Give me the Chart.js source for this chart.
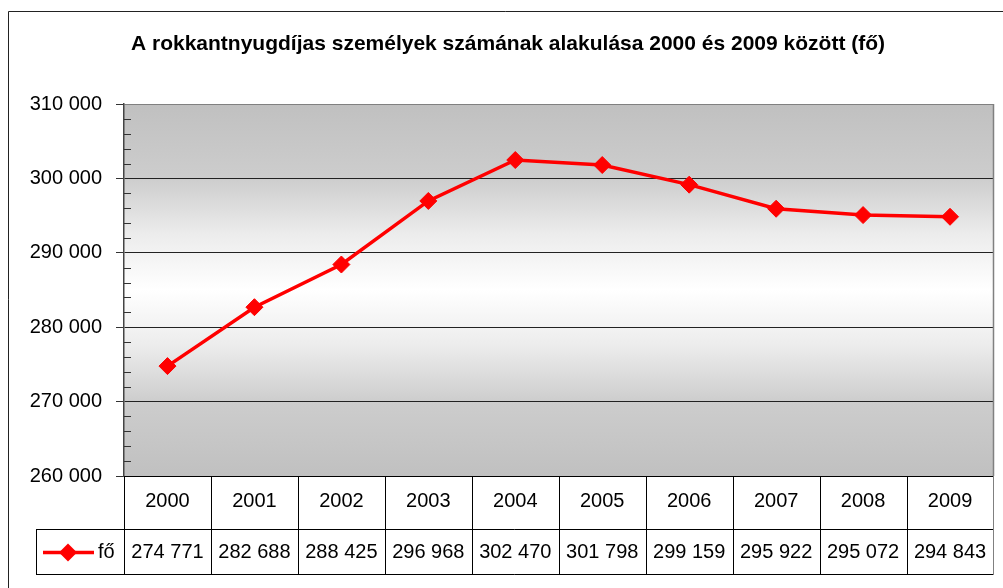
<!DOCTYPE html>
<html>
<head>
<meta charset="utf-8">
<script src="https://cdn.jsdelivr.net/npm/chart.js@4.4.0/dist/chart.umd.min.js"></script>
<style>
  html, body { margin: 0; padding: 0; background: #fff; }
  canvas { display: block; }
</style>
</head>
<body>
<canvas id="chart" width="1003" height="588"></canvas>
<script>
const chartTitle = 'A rokkantnyugdíjas személyek számának alakulása 2000 és 2009 között (fő)';
const years = ['2000', '2001', '2002', '2003', '2004', '2005', '2006', '2007', '2008', '2009'];
const persons = [274771, 282688, 288425, 296968, 302470, 301798, 299159, 295922, 295072, 294843];
const seriesLabel = 'fő';
const yMin = 260000;
const yMax = 310000;
const yStep = 10000;
const yMinorStep = 2000;

const FONT = '"Liberation Sans", Arial, sans-serif';
const RED = '#ff0000';

function fmt(n) {
    return String(n).replace(/\B(?=(\d{3})+(?!\d))/g, ' ');
}

// frame, gradient background, title, minor ticks and the data table under the axis
const tablePlugin = {
    id: 'tablePlugin',
    beforeDraw(chart) {
        const ctx = chart.ctx;
        const a = chart.chartArea;
        ctx.save();
        ctx.fillStyle = '#fff';
        ctx.fillRect(0, 0, chart.width, chart.height);

        // outer frame
        ctx.strokeStyle = '#222';
        ctx.lineWidth = 1;
        ctx.beginPath();
        ctx.moveTo(8.5, chart.height);
        ctx.lineTo(8.5, 11.5);
        ctx.lineTo(chart.width, 11.5);
        ctx.stroke();

        // plot background
        const g = ctx.createLinearGradient(0, a.top, 0, a.bottom);
        g.addColorStop(0, '#c0c0c0');
        g.addColorStop(0.2, '#cdcdcd');
        g.addColorStop(0.35, '#ececec');
        g.addColorStop(0.5, '#ffffff');
        g.addColorStop(0.65, '#ececec');
        g.addColorStop(0.8, '#cdcdcd');
        g.addColorStop(1, '#c0c0c0');
        ctx.fillStyle = g;
        ctx.fillRect(a.left, a.top, a.right - a.left, a.bottom - a.top);

        // title
        ctx.fillStyle = '#000';
        ctx.font = 'bold 21px ' + FONT;
        ctx.textAlign = 'center';
        ctx.textBaseline = 'middle';
        ctx.fillText(chartTitle, 508, 44);
        ctx.restore();
    },
    afterDraw(chart) {
        const ctx = chart.ctx;
        const a = chart.chartArea;
        const xs = chart.scales.x;
        const ys = chart.scales.y;
        ctx.save();

        // minor ticks on the value axis
        ctx.strokeStyle = '#333';
        ctx.lineWidth = 1;
        ctx.beginPath();
        for (let v = yMin + yMinorStep; v < yMax; v += yMinorStep) {
            if (v % yStep === 0) continue;
            const y = Math.round(ys.getPixelForValue(v)) + 0.5;
            ctx.moveTo(a.left, y);
            ctx.lineTo(a.left + 7, y);
        }
        ctx.stroke();

        // right border of plot
        ctx.strokeStyle = '#808080';
        ctx.lineWidth = 1.5;
        ctx.beginPath();
        ctx.moveTo(a.right, a.top);
        ctx.lineTo(a.right, a.bottom);
        ctx.stroke();

        // table grid
        const row1 = a.bottom + 53;
        const row2 = a.bottom + 98;
        const legendLeft = 36;
        ctx.strokeStyle = '#000';
        ctx.lineWidth = 1;
        ctx.beginPath();
        ctx.moveTo(legendLeft, row1 + 0.5);
        ctx.lineTo(a.right, row1 + 0.5);
        ctx.moveTo(legendLeft, row2 + 0.5);
        ctx.lineTo(a.right, row2 + 0.5);
        ctx.moveTo(legendLeft + 0.5, row1);
        ctx.lineTo(legendLeft + 0.5, row2);
        const half = (xs.getPixelForValue(1) - xs.getPixelForValue(0)) / 2;
        for (let i = 0; i < years.length; i++) {
            const x = Math.round(xs.getPixelForValue(i) - half) + 0.5;
            ctx.moveTo(x, a.bottom);
            ctx.lineTo(x, row2);
        }
        ctx.stroke();
        ctx.strokeStyle = '#808080';
        ctx.beginPath();
        ctx.moveTo(a.right, a.bottom);
        ctx.lineTo(a.right, row2 + 1);
        ctx.stroke();

        // values row
        ctx.fillStyle = '#000';
        ctx.font = '20px ' + FONT;
        ctx.textAlign = 'center';
        ctx.textBaseline = 'middle';
        const rowMid = (row1 + row2) / 2 + 1;
        persons.forEach((v, i) => {
            ctx.fillText(fmt(v), xs.getPixelForValue(i), rowMid);
        });

        // legend key
        ctx.strokeStyle = RED;
        ctx.lineWidth = 3.5;
        ctx.beginPath();
        ctx.moveTo(43, rowMid);
        ctx.lineTo(94, rowMid);
        ctx.stroke();
        ctx.fillStyle = RED;
        ctx.beginPath();
        ctx.moveTo(68, rowMid - 9);
        ctx.lineTo(77, rowMid);
        ctx.lineTo(68, rowMid + 9);
        ctx.lineTo(59, rowMid);
        ctx.closePath();
        ctx.fill();
        ctx.fillStyle = '#000';
        ctx.textAlign = 'left';
        ctx.fillText(seriesLabel, 98, rowMid);

        ctx.restore();
    }
};

const ctx = document.getElementById('chart').getContext('2d');
new Chart(ctx, {
    type: 'line',
    data: {
        labels: years,
        datasets: [{
            label: seriesLabel,
            data: persons,
            borderColor: RED,
            backgroundColor: RED,
            borderWidth: 3.5,
            pointStyle: 'rectRot',
            pointRadius: 8.5,
            pointHoverRadius: 8.5,
            pointBorderWidth: 1,
            tension: 0,
            fill: false
        }]
    },
    options: {
        responsive: false,
        devicePixelRatio: 1,
        animation: false,
        layout: {
            padding: { left: 0, right: 6, top: 104, bottom: 0 }
        },
        plugins: {
            legend: { display: false },
            title: { display: false },
            tooltip: { enabled: false }
        },
        scales: {
            x: {
                type: 'category',
                offset: true,
                afterFit(scale) { scale.height = 112; },
                grid: { drawOnChartArea: false, drawTicks: false },
                border: { display: true, color: '#000', width: 1 },
                ticks: {
                    color: '#000',
                    padding: 13,
                    maxRotation: 0,
                    font: { family: FONT, size: 20 }
                }
            },
            y: {
                min: yMin,
                max: yMax,
                afterFit(scale) { scale.width = 124; },
                grid: {
                    color: (c) => c.tick && c.tick.value === yMax ? '#808080' : '#222',
                    lineWidth: 1,
                    tickLength: 8,
                    tickColor: '#333'
                },
                border: { display: true, color: '#444', width: 1.5 },
                ticks: {
                    stepSize: yStep,
                    color: '#000',
                    padding: 14,
                    font: { family: FONT, size: 20 },
                    callback: (v) => fmt(v)
                }
            }
        }
    },
    plugins: [tablePlugin]
});
</script>
</body>
</html>
